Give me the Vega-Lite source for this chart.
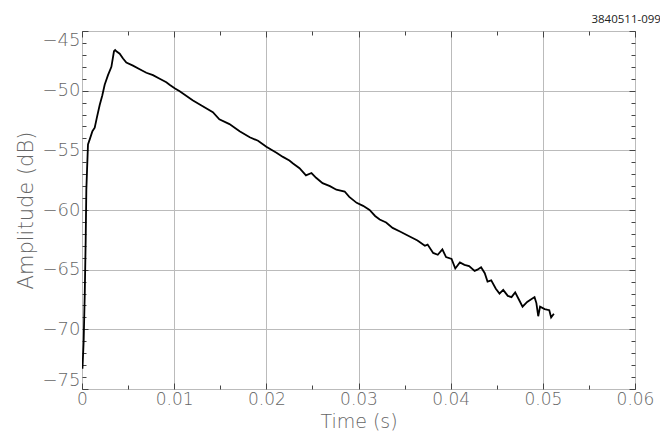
{
  "$schema": "https://vega.github.io/schema/vega-lite/v6.json",
  "width": 553,
  "height": 358,
  "autosize": "none",
  "padding": {"left": 82, "top": 31, "right": 25, "bottom": 43},
  "background": "white",
  "config": {
    "view": {"stroke": "#444", "strokeWidth": 1},
    "axis": {
      "labelFont": "DejaVu Sans",
      "titleFont": "DejaVu Sans",
      "labelColor": "#666",
      "titleColor": "#666",
      "labelFontWeight": 300,
      "titleFontWeight": 300,
      "domain": false,
      "gridColor": "#bbb",
      "gridWidth": 1,
      "tickColor": "#444",
      "tickWidth": 1
    }
  },
  "title": {
    "text": "3840511-099",
    "anchor": "end",
    "frame": "bounds",
    "font": "Open Sans",
    "fontSize": 11.5,
    "fontWeight": "normal",
    "color": "#222",
    "offset": 5,
    "dx": 7
  },
  "data": {
    "values": [
      {"t": 0.00005, "a": -73.3},
      {"t": 0.00018, "a": -71.0},
      {"t": 0.0003, "a": -67.0},
      {"t": 0.0004, "a": -62.5},
      {"t": 0.00047, "a": -58.3},
      {"t": 0.00055, "a": -56.6},
      {"t": 0.00065, "a": -54.5},
      {"t": 0.00083, "a": -54.1},
      {"t": 0.00113, "a": -53.4},
      {"t": 0.00138, "a": -53.1},
      {"t": 0.00163, "a": -52.2},
      {"t": 0.00192, "a": -51.2},
      {"t": 0.0022, "a": -50.4},
      {"t": 0.00246, "a": -49.5},
      {"t": 0.00282, "a": -48.7},
      {"t": 0.00319, "a": -48.0},
      {"t": 0.00347, "a": -46.7},
      {"t": 0.0036, "a": -46.6},
      {"t": 0.00373, "a": -46.7},
      {"t": 0.00409, "a": -46.9},
      {"t": 0.00445, "a": -47.3},
      {"t": 0.00481, "a": -47.65},
      {"t": 0.00553, "a": -47.9},
      {"t": 0.00626, "a": -48.2},
      {"t": 0.00698, "a": -48.5},
      {"t": 0.0077, "a": -48.7},
      {"t": 0.00843, "a": -49.0},
      {"t": 0.00915, "a": -49.3},
      {"t": 0.0095, "a": -49.5},
      {"t": 0.01005, "a": -49.8},
      {"t": 0.0106, "a": -50.05},
      {"t": 0.012, "a": -50.8},
      {"t": 0.0131, "a": -51.3},
      {"t": 0.0142, "a": -51.8},
      {"t": 0.0149, "a": -52.4},
      {"t": 0.016, "a": -52.8},
      {"t": 0.0171, "a": -53.4},
      {"t": 0.0182, "a": -53.9},
      {"t": 0.0191, "a": -54.2},
      {"t": 0.02, "a": -54.7},
      {"t": 0.0211, "a": -55.2},
      {"t": 0.0218, "a": -55.55},
      {"t": 0.0225, "a": -55.85},
      {"t": 0.0229, "a": -56.1},
      {"t": 0.0236, "a": -56.5},
      {"t": 0.0243, "a": -57.1},
      {"t": 0.0249, "a": -56.9},
      {"t": 0.0254, "a": -57.3},
      {"t": 0.0261, "a": -57.75},
      {"t": 0.0269, "a": -58.0},
      {"t": 0.0276, "a": -58.3},
      {"t": 0.0285, "a": -58.45},
      {"t": 0.029, "a": -58.9},
      {"t": 0.0298, "a": -59.4},
      {"t": 0.0305, "a": -59.65},
      {"t": 0.0312, "a": -60.0},
      {"t": 0.0318, "a": -60.5},
      {"t": 0.0323, "a": -60.8},
      {"t": 0.033, "a": -61.05},
      {"t": 0.0337, "a": -61.5},
      {"t": 0.0345, "a": -61.8},
      {"t": 0.0355, "a": -62.2},
      {"t": 0.0364, "a": -62.55},
      {"t": 0.0372, "a": -63.0},
      {"t": 0.0375, "a": -62.9},
      {"t": 0.0381, "a": -63.6},
      {"t": 0.0386, "a": -63.75},
      {"t": 0.0391, "a": -63.3},
      {"t": 0.0395, "a": -63.95},
      {"t": 0.0401, "a": -64.1},
      {"t": 0.0405, "a": -64.9},
      {"t": 0.041, "a": -64.4},
      {"t": 0.0415, "a": -64.6},
      {"t": 0.042, "a": -64.7},
      {"t": 0.0426, "a": -65.1},
      {"t": 0.0429, "a": -65.0},
      {"t": 0.0433, "a": -64.8},
      {"t": 0.0437, "a": -65.3},
      {"t": 0.044, "a": -66.0},
      {"t": 0.0444, "a": -65.9},
      {"t": 0.0449, "a": -66.6},
      {"t": 0.0453, "a": -67.0},
      {"t": 0.0457, "a": -66.7},
      {"t": 0.0462, "a": -67.2},
      {"t": 0.0466, "a": -67.3},
      {"t": 0.047, "a": -66.9},
      {"t": 0.0474, "a": -67.5},
      {"t": 0.0478, "a": -68.1},
      {"t": 0.0483, "a": -67.7},
      {"t": 0.0487, "a": -67.5},
      {"t": 0.0491, "a": -67.3},
      {"t": 0.0493, "a": -67.8},
      {"t": 0.0495, "a": -68.9},
      {"t": 0.0497, "a": -68.1},
      {"t": 0.0502, "a": -68.3},
      {"t": 0.0507, "a": -68.4},
      {"t": 0.0509, "a": -69.0},
      {"t": 0.0512, "a": -68.7}
    ]
  },
  "resolve": {"axis": {"x": "independent", "y": "independent"}},
  "layer": [
    {
      "mark": {"type": "line", "color": "black", "strokeWidth": 1.8, "clip": true},
      "encoding": {
        "x": {
          "field": "t", "type": "quantitative",
          "scale": {"domain": [0, 0.06], "nice": false, "zero": false},
          "axis": {
            "orient": "bottom",
            "title": "Time (s)",
            "titleFontSize": 19,
            "titlePadding": 3,
            "labelFontSize": 17,
            "labelPadding": 8,
            "values": [0, 0.005, 0.01, 0.015, 0.02, 0.025, 0.03, 0.035, 0.04, 0.045, 0.05, 0.055, 0.06],
            "labelExpr": "round(datum.value*1000) % 10 == 0 ? format(datum.value, '~g') : ''",
            "labelFlush": false,
            "labelOverlap": false,
            "grid": true,
            "gridOpacity": {"condition": {"test": "round(datum.value*1000) % 10 == 0", "value": 1}, "value": 0},
            "tickSize": {"condition": {"test": "round(datum.value*1000) % 10 == 0", "value": -6}, "value": -4}
          }
        },
        "y": {
          "field": "a", "type": "quantitative",
          "scale": {"domain": [-75, -45], "nice": false, "zero": false},
          "axis": {
            "orient": "left",
            "title": "Amplitude (dB)",
            "titleFontSize": 21,
            "titlePadding": 6,
            "labelFontSize": 18,
            "labelPadding": 8,
            "values": [-75, -74, -73, -72, -71, -70, -69, -68, -67, -66, -65, -64, -63, -62, -61, -60, -59, -58, -57, -56, -55, -54, -53, -52, -51, -50, -49, -48, -47, -46, -45],
            "labelExpr": "datum.value % 5 == 0 ? datum.label : ''",
            "labelFlush": true,
            "labelOverlap": false,
            "grid": true,
            "gridOpacity": {"condition": {"test": "datum.value % 5 == 0", "value": 1}, "value": 0},
            "tickSize": {"condition": {"test": "datum.value % 5 == 0", "value": -6}, "value": -4}
          }
        }
      }
    },
    {
      "mark": {"type": "line", "opacity": 0},
      "encoding": {
        "x": {
          "field": "t", "type": "quantitative",
          "axis": {
            "orient": "top",
            "title": null,
            "labels": false,
            "grid": false,
            "values": [0, 0.005, 0.01, 0.015, 0.02, 0.025, 0.03, 0.035, 0.04, 0.045, 0.05, 0.055, 0.06],
            "tickSize": {"condition": {"test": "round(datum.value*1000) % 10 == 0", "value": -6}, "value": -4}
          }
        },
        "y": {
          "field": "a", "type": "quantitative",
          "axis": {
            "orient": "right",
            "title": null,
            "labels": false,
            "grid": false,
            "values": [-75, -74, -73, -72, -71, -70, -69, -68, -67, -66, -65, -64, -63, -62, -61, -60, -59, -58, -57, -56, -55, -54, -53, -52, -51, -50, -49, -48, -47, -46, -45],
            "tickSize": {"condition": {"test": "datum.value % 5 == 0", "value": -6}, "value": -4}
          }
        }
      }
    }
  ]
}
